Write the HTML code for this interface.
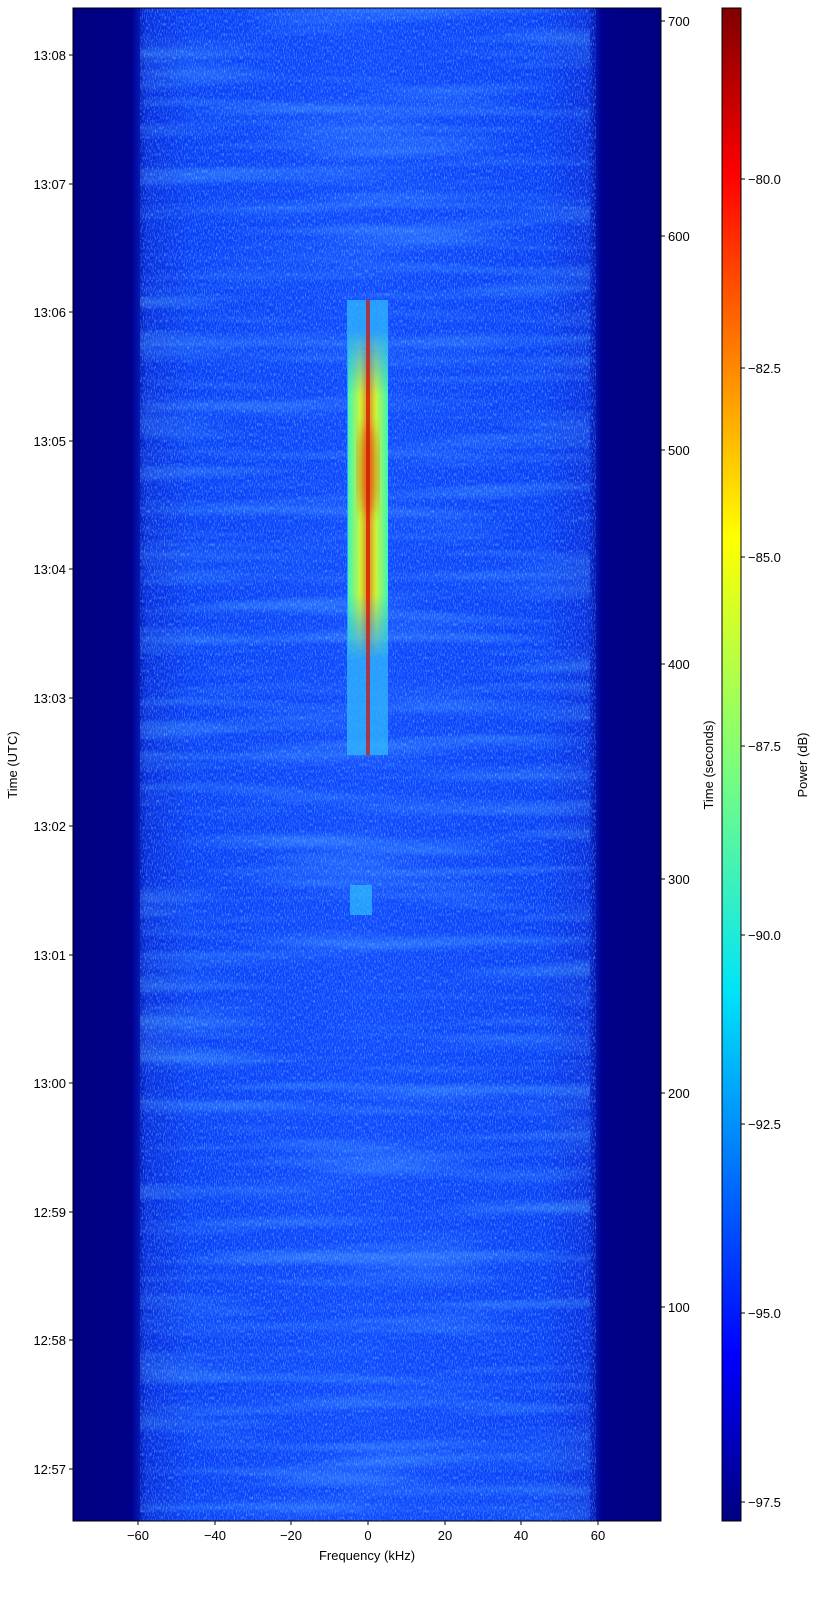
<!DOCTYPE html>
<html><head><style>
body{margin:0;background:#fff;font-family:"Liberation Sans",sans-serif;}
</style></head><body>
<div style="position:relative;width:832px;height:1603px;overflow:hidden">
<svg width="832" height="1603" style="position:absolute;left:0;top:0">
<defs>
<linearGradient id="bg" x1="0" x2="1" y1="0" y2="0">
<stop offset="0" stop-color="#00007f"/>
<stop offset="0.10" stop-color="#00008a"/>
<stop offset="0.125" stop-color="#0a2ee0"/>
<stop offset="0.2" stop-color="#0c40f8"/>
<stop offset="0.5" stop-color="#1248ff"/>
<stop offset="0.8" stop-color="#0c40f8"/>
<stop offset="0.875" stop-color="#0a2ee0"/>
<stop offset="0.90" stop-color="#00008a"/>
<stop offset="1" stop-color="#00007f"/>
</linearGradient>
<filter id="n" x="0" y="0" width="1" height="1">
<feTurbulence type="fractalNoise" baseFrequency="0.9 0.3" numOctaves="2" seed="3"/>
<feColorMatrix values="0 0 0 0 0.15  0 0 0 0 0.65  0 0 0 0 1  0 0 0 1.8 -0.85"/>
</filter>
<filter id="b" x="0" y="0" width="1" height="1">
<feTurbulence type="fractalNoise" baseFrequency="0.004 0.06" numOctaves="2" seed="7"/>
<feColorMatrix values="0 0 0 0 0.1  0 0 0 0 0.45  0 0 0 0 1  0 0 0 2 -0.9"/>
</filter>
<filter id="bl"><feGaussianBlur stdDeviation="6"/></filter>
<linearGradient id="sig" x1="0" x2="1">
<stop offset="0" stop-color="#40ffb0"/>
<stop offset="0.3" stop-color="#d8ff28"/>
<stop offset="0.5" stop-color="#ff8000"/>
<stop offset="0.7" stop-color="#d8ff28"/>
<stop offset="1" stop-color="#40ffb0"/>
</linearGradient>
<linearGradient id="sv" x1="0" x2="0" y1="0" y2="1">
<stop offset="0" stop-color="#fff" stop-opacity="0"/>
<stop offset="0.2" stop-color="#fff" stop-opacity="1"/>
<stop offset="0.8" stop-color="#fff" stop-opacity="1"/>
<stop offset="1" stop-color="#fff" stop-opacity="0"/>
</linearGradient>
<mask id="m"><rect x="340" y="330" width="60" height="330" fill="url(#sv)"/></mask>
<linearGradient id="cb" x1="0" x2="0" y1="0" y2="1">
<stop offset="0" stop-color="#7f0000"/>
<stop offset="0.11" stop-color="#ff0000"/>
<stop offset="0.35" stop-color="#ffff00"/>
<stop offset="0.5" stop-color="#7dff7a"/>
<stop offset="0.65" stop-color="#00e4f8"/>
<stop offset="0.89" stop-color="#0000ff"/>
<stop offset="1" stop-color="#00007f"/>
</linearGradient>
</defs>
<rect x="73" y="8" width="588" height="1513" fill="url(#bg)"/>
<rect x="140" y="8" width="450" height="1513" filter="url(#b)" opacity="0.5"/>
<rect x="140" y="8" width="456" height="1513" filter="url(#n)" opacity="0.85"/>
<rect x="347" y="300" width="41" height="455" fill="#30b8ff" opacity="0.75"/>
<rect x="348" y="330" width="40" height="330" fill="url(#sig)" mask="url(#m)" opacity="0.9"/>
<ellipse cx="368" cy="470" rx="10" ry="45" fill="#e02000" opacity="0.45" filter="url(#bl)"/>
<rect x="366" y="300" width="4" height="455" fill="#d01000" opacity="0.7"/>
<rect x="350" y="885" width="22" height="30" fill="#30d0ff" opacity="0.6"/>
<rect x="73" y="8" width="588" height="1513" fill="none" stroke="#000" stroke-width="1"/>
<rect x="722" y="8" width="19" height="1513" fill="url(#cb)" stroke="#000" stroke-width="1"/>
<g stroke="#000" stroke-width="1">
<line x1="138" y1="1521" x2="138" y2="1525"/><line x1="215" y1="1521" x2="215" y2="1525"/><line x1="291" y1="1521" x2="291" y2="1525"/><line x1="368" y1="1521" x2="368" y2="1525"/><line x1="445" y1="1521" x2="445" y2="1525"/><line x1="521" y1="1521" x2="521" y2="1525"/><line x1="598" y1="1521" x2="598" y2="1525"/>
<line x1="69" y1="55" x2="73" y2="55"/><line x1="69" y1="184" x2="73" y2="184"/><line x1="69" y1="312" x2="73" y2="312"/><line x1="69" y1="441" x2="73" y2="441"/><line x1="69" y1="569" x2="73" y2="569"/><line x1="69" y1="698" x2="73" y2="698"/><line x1="69" y1="826" x2="73" y2="826"/><line x1="69" y1="955" x2="73" y2="955"/><line x1="69" y1="1083" x2="73" y2="1083"/><line x1="69" y1="1212" x2="73" y2="1212"/><line x1="69" y1="1340" x2="73" y2="1340"/><line x1="69" y1="1469" x2="73" y2="1469"/>
<line x1="661" y1="21" x2="665" y2="21"/><line x1="661" y1="236" x2="665" y2="236"/><line x1="661" y1="450" x2="665" y2="450"/><line x1="661" y1="664" x2="665" y2="664"/><line x1="661" y1="879" x2="665" y2="879"/><line x1="661" y1="1093" x2="665" y2="1093"/><line x1="661" y1="1307" x2="665" y2="1307"/>
<line x1="741" y1="179" x2="745" y2="179"/><line x1="741" y1="368" x2="745" y2="368"/><line x1="741" y1="557" x2="745" y2="557"/><line x1="741" y1="746" x2="745" y2="746"/><line x1="741" y1="935" x2="745" y2="935"/><line x1="741" y1="1124" x2="745" y2="1124"/><line x1="741" y1="1313" x2="745" y2="1313"/><line x1="741" y1="1502" x2="745" y2="1502"/>
</g>
<g font-family="Liberation Sans,sans-serif" font-size="13" fill="#000">
<g text-anchor="middle">
<text x="138" y="1540">−60</text><text x="215" y="1540">−40</text><text x="291" y="1540">−20</text><text x="368" y="1540">0</text><text x="445" y="1540">20</text><text x="521" y="1540">40</text><text x="598" y="1540">60</text>
<text x="367" y="1560">Frequency (kHz)</text>
</g>
<g text-anchor="end">
<text x="66" y="60">13:08</text><text x="66" y="189">13:07</text><text x="66" y="317">13:06</text><text x="66" y="446">13:05</text><text x="66" y="574">13:04</text><text x="66" y="703">13:03</text><text x="66" y="831">13:02</text><text x="66" y="960">13:01</text><text x="66" y="1088">13:00</text><text x="66" y="1217">12:59</text><text x="66" y="1345">12:58</text><text x="66" y="1474">12:57</text>
</g>
<text x="668" y="26">700</text><text x="668" y="241">600</text><text x="668" y="455">500</text><text x="668" y="669">400</text><text x="668" y="884">300</text><text x="668" y="1098">200</text><text x="668" y="1312">100</text>
<text x="748" y="184">−80.0</text><text x="748" y="373">−82.5</text><text x="748" y="562">−85.0</text><text x="748" y="751">−87.5</text><text x="748" y="940">−90.0</text><text x="748" y="1129">−92.5</text><text x="748" y="1318">−95.0</text><text x="748" y="1507">−97.5</text>
<text transform="translate(17,765) rotate(-90)" text-anchor="middle">Time (UTC)</text>
<text transform="translate(713,765) rotate(-90)" text-anchor="middle">Time (seconds)</text>
<text transform="translate(807,765) rotate(-90)" text-anchor="middle">Power (dB)</text>
</g>
</svg>
</div>
</body></html>
